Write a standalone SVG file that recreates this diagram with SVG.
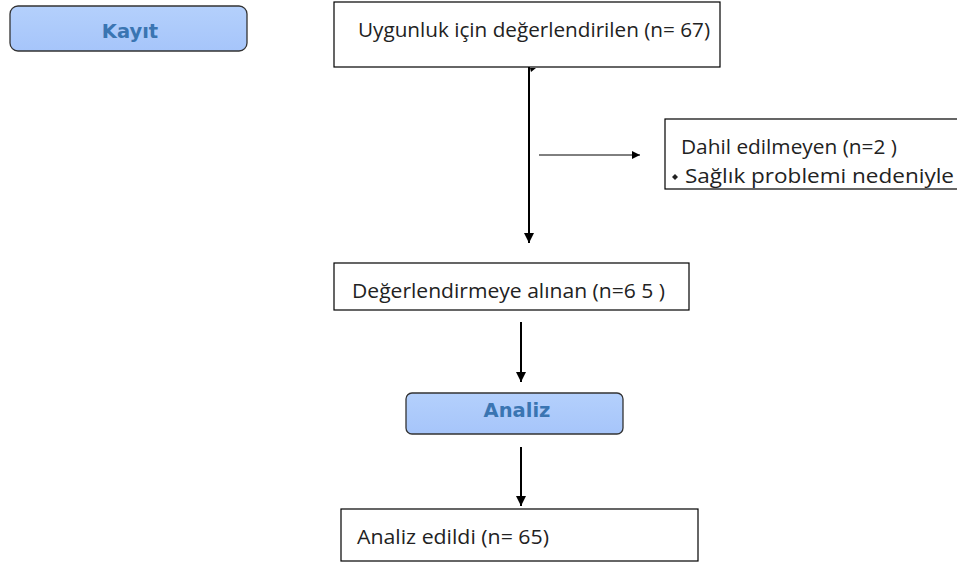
<svg xmlns="http://www.w3.org/2000/svg" width="957" height="565" viewBox="0 0 957 565">
<defs>
<marker id="ah" viewBox="0 0 10 10" refX="10" refY="5" markerWidth="5" markerHeight="5" orient="auto" markerUnits="strokeWidth"><path d="M0,0 L10,5 L0,10 z" fill="#000"/></marker>
<marker id="ahs" viewBox="0 0 10 10" refX="10" refY="5" markerWidth="10" markerHeight="8" orient="auto" markerUnits="strokeWidth"><path d="M0,0 L10,5 L0,10 z" fill="#000"/></marker>
<linearGradient id="bl" x1="0" y1="0" x2="0" y2="1"><stop offset="0" stop-color="#b4d0fc"/><stop offset="1" stop-color="#a6c5fa"/></linearGradient>
</defs>
<style>
.box{fill:#fff;stroke:#000;stroke-width:1.2}
.rb{fill:url(#bl);stroke:#333;stroke-width:1.3}
.t{font-family:"Open Sans","Liberation Sans",sans-serif;font-size:19.5px;fill:#222}
.h{font-family:"DejaVu Sans","Liberation Sans",sans-serif;font-weight:bold;font-size:19.5px;fill:#3a75b2;text-anchor:middle}
.c{stroke:#000;fill:none}
</style>
<rect width="957" height="565" fill="#fff"/>
<g id="kayit">
<rect class="rb" x="10" y="6" width="237" height="45" rx="8"/>
<text class="h" x="130" y="38">Kayıt</text>
</g>
<g id="uygunluk">
<rect class="box" x="334" y="2" width="386" height="65"/>
<text class="t" x="358" y="37" textLength="352" lengthAdjust="spacingAndGlyphs">Uygunluk için değerlendirilen (n= 67)</text>
</g>
<g id="dahil">
<rect class="box" x="665" y="119" width="300" height="70"/>
<text class="t" x="681" y="154" textLength="216" lengthAdjust="spacingAndGlyphs">Dahil edilmeyen  (n=2 )</text>
<path d="M675,174 L678,177 L675,180 L672,177 z" fill="#222"/>
<text class="t" x="685" y="183" textLength="269" lengthAdjust="spacingAndGlyphs">Sağlık problemi nedeniyle</text>
</g>
<g id="degerlendirme">
<rect class="box" x="334" y="263" width="355" height="47"/>
<text class="t" x="352" y="298" textLength="313" lengthAdjust="spacingAndGlyphs">Değerlendirmeye alınan (n=6 5 )</text>
</g>
<g id="analiz">
<rect class="rb" x="406" y="393" width="217" height="41" rx="6"/>
<text class="h" x="517" y="417">Analiz</text>
</g>
<g id="analizedildi">
<rect class="box" x="341" y="509" width="357" height="52"/>
<text class="t" x="357" y="544" textLength="192" lengthAdjust="spacingAndGlyphs">Analiz edildi  (n= 65)</text>
</g>
<g id="connectors">
<line class="c" x1="529" y1="67" x2="529" y2="243" stroke-width="2" marker-end="url(#ah)"/>
<path d="M530,68 L536,68 L531,72 z" fill="#000"/>
<line class="c" x1="539" y1="155" x2="640" y2="155" stroke-width="1" marker-end="url(#ahs)"/>
<line class="c" x1="521" y1="322" x2="521" y2="382" stroke-width="2" marker-end="url(#ah)"/>
<line class="c" x1="521" y1="447" x2="521" y2="506" stroke-width="2" marker-end="url(#ah)"/>
</g>
</svg>
